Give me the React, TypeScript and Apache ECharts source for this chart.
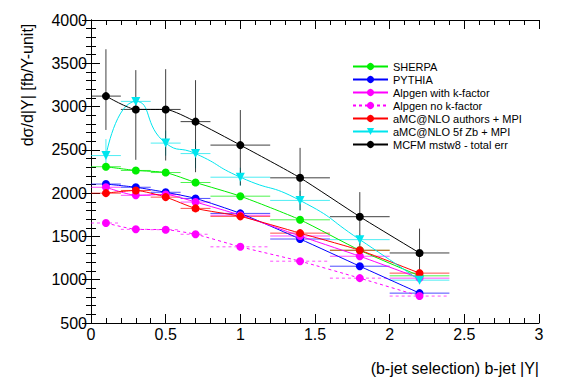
import React, { useEffect, useRef } from "react";
import * as echarts from "echarts";

const binCenters = [0.1, 0.3, 0.5, 0.7, 1.0, 1.4, 1.8, 2.2];
const binHalfWidths = [0.1, 0.1, 0.1, 0.1, 0.2, 0.2, 0.2, 0.2];

const sherpa = [2305, 2262, 2238, 2123, 1965, 1692, 1340, 1045];
const pythia = [2105, 2068, 2010, 1939, 1766, 1470, 1156, 845];
const alpgenK = [2068, 1975, 1985, 1897, 1745, 1505, 1271, 1018];
const alpgenNoK = [1655, 1582, 1578, 1525, 1380, 1214, 1018, 811];
const amcAuthors = [2000, 2031, 1954, 1824, 1732, 1538, 1340, 1076];
const amc5f = [2434, 3060, 2578, 2457, 2184, 1916, 1463, 995];
const mcfm = [3121, 2967, 2967, 2826, 2555, 2177, 1728, 1309];

const smallErr = [25, 25, 25, 25, 20, 20, 20, 20];
const amc5fErrUp = [190, 40, 145, 150, 110, 110, 60, 40];
const amc5fErrDown = [140, 40, 145, 170, 100, 115, 60, 40];
const mcfmErrUp = [541, 454, 465, 479, 405, 346, 284, 281];
const mcfmErrDown = [391, 582, 590, 584, 466, 376, 358, 279];

const xTicks = [0, 0.5, 1, 1.5, 2, 2.5, 3];
const yTicks = [500, 1000, 1500, 2000, 2500, 3000, 3500, 4000];

type S = {
  name: string;
  values: number[];
  up: number[];
  down: number[];
  color: string;
  symbol: string;
  dashed?: boolean;
  smooth: number;
};

const seriesDefs: S[] = [
  { name: "SHERPA", values: sherpa, up: smallErr, down: smallErr, color: "#00ee00", symbol: "circle", smooth: 0.2 },
  { name: "PYTHIA", values: pythia, up: smallErr, down: smallErr, color: "#0000ff", symbol: "circle", smooth: 0.2 },
  { name: "Alpgen with k-factor", values: alpgenK, up: smallErr, down: smallErr, color: "#ff00ff", symbol: "circle", smooth: 0.2 },
  { name: "Alpgen no k-factor", values: alpgenNoK, up: smallErr, down: smallErr, color: "#ff00ff", symbol: "circle", dashed: true, smooth: 0.2 },
  { name: "aMC@NLO authors + MPI", values: amcAuthors, up: smallErr, down: smallErr, color: "#ff0000", symbol: "circle", smooth: 0.2 },
  { name: "aMC@NLO 5f Zb + MPI", values: amc5f, up: amc5fErrUp, down: amc5fErrDown, color: "#00e5ee", symbol: "triangle", smooth: 0.6 },
  { name: "MCFM mstw8 - total err", values: mcfm, up: mcfmErrUp, down: mcfmErrDown, color: "#000000", symbol: "circle", smooth: 0.2 },
];

const FONT = "Liberation Sans, Arial, sans-serif";

export default function App() {
  const ref = useRef<HTMLDivElement>(null);
  useEffect(() => {
    if (!ref.current) return;
    const chart = echarts.init(ref.current, undefined, { renderer: "svg" });
    const series: any[] = [];
    seriesDefs.forEach((s) => {
      const errData = binCenters.map((x, i) => [
        x,
        s.values[i],
        x - binHalfWidths[i],
        x + binHalfWidths[i],
        s.values[i] - s.down[i],
        s.values[i] + s.up[i],
      ]);
      series.push({
        name: s.name + "_err",
        type: "custom",
        xAxisIndex: 0,
        yAxisIndex: 0,
        clip: true,
        silent: true,
        data: errData,
        encode: { x: 0, y: 1 },
        renderItem: (params: any, api: any) => {
          const x = api.value(0);
          const y = api.value(1);
          const p1 = api.coord([api.value(2), y]);
          const p2 = api.coord([api.value(3), y]);
          const p3 = api.coord([x, api.value(4)]);
          const p4 = api.coord([x, api.value(5)]);
          const style = {
            stroke: s.color,
            lineWidth: 1,
            lineDash: s.dashed ? [3, 3] : null,
            opacity: s.name.startsWith("MCFM") ? 0.75 : 0.7,
          };
          return {
            type: "group",
            children: [
              { type: "line", shape: { x1: p1[0], y1: p1[1], x2: p2[0], y2: p2[1] }, style },
              { type: "line", shape: { x1: p3[0], y1: p3[1], x2: p4[0], y2: p4[1] }, style: { ...style, lineDash: null } },
            ],
          };
        },
      });
      series.push({
        name: s.name,
        type: "line",
        xAxisIndex: 0,
        yAxisIndex: 0,
        data: binCenters.map((x, i) => [x, s.values[i]]),
        smooth: s.smooth,
        symbol: s.symbol,
        symbolRotate: s.symbol === "triangle" ? 180 : 0,
        symbolSize: s.symbol === "triangle" ? 9 : 8,
        showSymbol: true,
        lineStyle: { color: s.color, width: 1, type: s.dashed ? [3, 3] : "solid" },
        itemStyle: { color: s.color },
        z: 3,
      });
    });

    const axisCommon = {
      type: "value",
      axisLine: { show: true, lineStyle: { color: "#000", width: 1 } },
      axisTick: { show: true, inside: true, length: 9, lineStyle: { color: "#000" } },
      minorTick: { show: true, splitNumber: 5, length: 5, lineStyle: { color: "#000" } },
      splitLine: { show: false },
      minorSplitLine: { show: false },
    };

    chart.setOption({
      animation: false,
      grid: { left: 91, right: 28, top: 20, bottom: 61, containLabel: false },
      legend: {
        data: seriesDefs.map((s) => s.name),
        orient: "vertical",
        left: 347,
        top: 56,
        itemWidth: 35,
        itemHeight: 9,
        itemGap: 2,
        selectedMode: false,
        textStyle: { fontFamily: FONT, fontSize: 11, color: "#000", lineHeight: 9 },
      },
      xAxis: [
        {
          ...axisCommon,
          min: xTicks[0],
          max: xTicks[xTicks.length - 1],
          interval: 0.5,
          position: "bottom",
          axisLabel: {
            show: true,
            fontFamily: FONT,
            fontSize: 16,
            color: "#000",
            margin: 3,
            formatter: (v: number) => String(v),
          },
        },
        {
          ...axisCommon,
          min: xTicks[0],
          max: xTicks[xTicks.length - 1],
          interval: 0.5,
          position: "top",
          axisLabel: { show: false },
        },
      ],
      yAxis: [
        {
          ...axisCommon,
          min: yTicks[0],
          max: yTicks[yTicks.length - 1],
          interval: 500,
          position: "left",
          axisLabel: {
            show: true,
            fontFamily: FONT,
            fontSize: 16,
            color: "#000",
            margin: 4,
            formatter: (v: number) => String(v),
          },
        },
        {
          ...axisCommon,
          min: yTicks[0],
          max: yTicks[yTicks.length - 1],
          interval: 500,
          position: "right",
          axisLabel: { show: false },
        },
      ],
      graphic: [
        {
          type: "text",
          x: 27,
          y: 85,
          rotation: Math.PI / 2,
          style: {
            text: "dσ/d|Y| [fb/Y-unit]",
            font: `16px ${FONT}`,
            fill: "#000",
            align: "center",
            verticalAlign: "middle",
          },
        },
        {
          type: "text",
          x: 539,
          y: 368,
          style: {
            text: "(b-jet selection) b-jet |Y|",
            font: `16px ${FONT}`,
            fill: "#000",
            align: "right",
            verticalAlign: "middle",
          },
        },
      ],
      series,
    });
    return () => chart.dispose();
  }, []);
  return (
    <div style={{ position: "fixed", left: 0, top: 0, width: 567, height: 384, background: "#fff" }}>
      <div ref={ref} style={{ width: 567, height: 384 }} />
    </div>
  );
}
